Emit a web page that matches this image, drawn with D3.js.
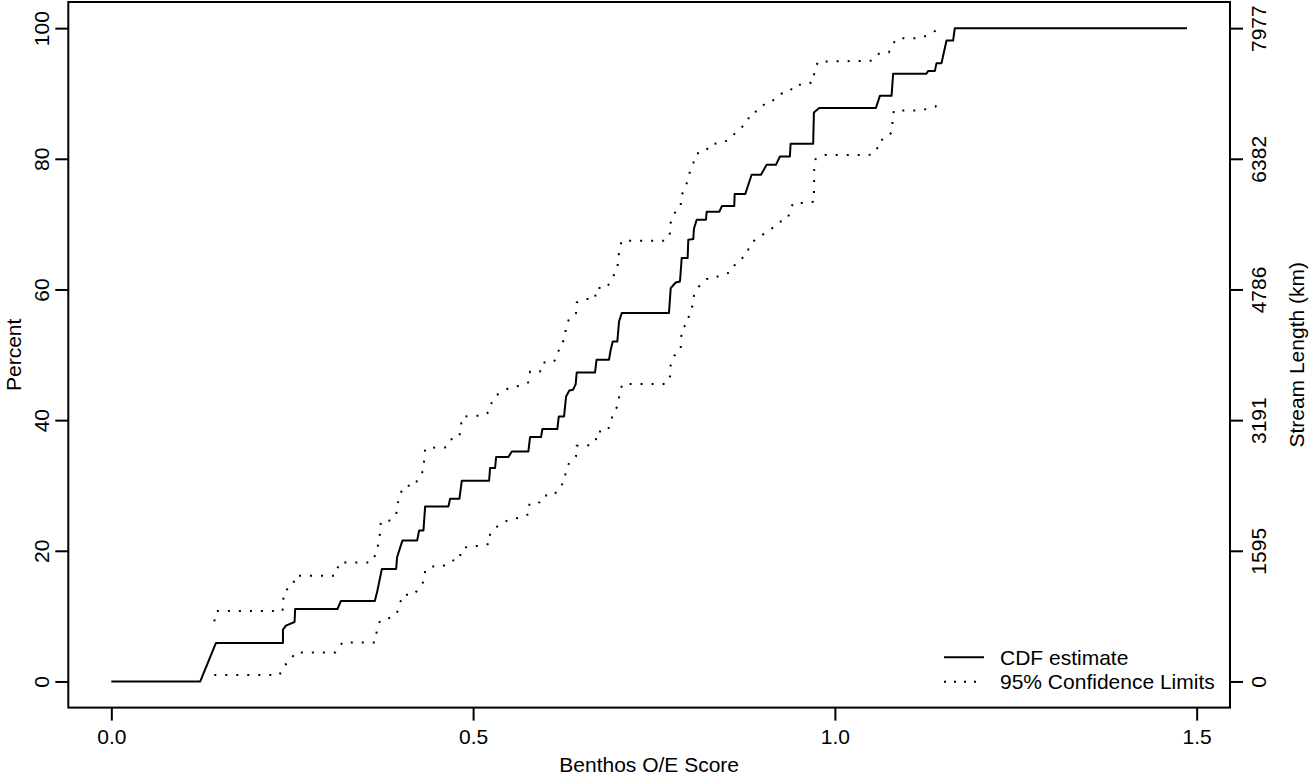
<!DOCTYPE html>
<html>
<head>
<meta charset="utf-8">
<script src="https://cdn.jsdelivr.net/npm/d3@7/dist/d3.min.js"></script>
<style>
  html, body { margin: 0; padding: 0; background: #ffffff; }
  svg { display: block; }
  text { font-family: "Liberation Sans", Arial, Helvetica, sans-serif; fill: #000; }
</style>
</head>
<body>
<svg id="chart" width="1316" height="777"></svg>
<script>
// ---------------- data ----------------
const cdfScore = [0, 0.1229, 0.1446, 0.2372, 0.2372, 0.2413, 0.2532, 0.2541, 0.3126, 0.3173,
  0.3642, 0.3678, 0.3739, 0.3936, 0.3950, 0.4024, 0.4227, 0.4254, 0.4314, 0.4337,
  0.4659, 0.4682, 0.4811, 0.4844, 0.5221, 0.5235, 0.5304, 0.5318, 0.5488, 0.5535,
  0.5764, 0.5787, 0.5939, 0.5957, 0.6164, 0.6184, 0.6257, 0.6285, 0.6330, 0.6381,
  0.6418, 0.6432, 0.6685, 0.6706, 0.6878, 0.6902, 0.6930, 0.6993, 0.7017, 0.7054,
  0.7707, 0.7731, 0.7800, 0.7859, 0.7883, 0.7965, 0.7974, 0.8043, 0.8052, 0.8090,
  0.8218, 0.8228, 0.8402, 0.8439, 0.8609, 0.8615, 0.8761, 0.8849, 0.8978, 0.9057,
  0.9185, 0.9240, 0.9378, 0.9388, 0.9700, 0.9710, 0.9783, 1.0566, 1.0622, 1.0783,
  1.0805, 1.1264, 1.1288, 1.1381, 1.1405, 1.1474, 1.1496, 1.1543, 1.1634, 1.1657, 1.4866];
const cdfPercent = [0, 0, 5.89, 5.89, 7.93, 8.54, 9.10, 11.09, 11.09, 12.32,
  12.32, 13.94, 17.21, 17.21, 19.05, 21.59, 21.59, 23.12, 23.12, 26.79,
  26.79, 27.97, 27.97, 30.73, 30.73, 32.67, 32.67, 34.35, 34.35, 35.21,
  35.21, 37.41, 37.41, 38.64, 38.64, 40.57, 40.57, 43.63, 44.54, 44.65,
  45.52, 47.30, 47.30, 49.24, 49.24, 50.77, 52.04, 52.04, 55.10, 56.39,
  56.39, 60.21, 61.07, 61.22, 64.81, 64.81, 67.60, 67.71, 69.29, 70.67,
  70.67, 71.89, 71.89, 72.76, 72.76, 74.60, 74.60, 77.55, 77.55, 79.08,
  79.08, 80.35, 80.35, 82.30, 82.30, 87.08, 87.76, 87.76, 89.64, 89.64,
  93.01, 93.01, 93.42, 93.42, 94.64, 94.64, 95.76, 98.10, 98.10, 100, 100];

const upperScore = [0.1423, 0.1454, 0.2366, 0.2376, 0.2385, 0.2510, 0.2541, 0.3094, 0.3153, 0.3587,
  0.3660, 0.3692, 0.3715, 0.3725, 0.3863, 0.3936, 0.3954, 0.3992, 0.4051, 0.4199,
  0.4244, 0.4314, 0.4323, 0.4337, 0.4475, 0.4613, 0.4673, 0.4807, 0.4830, 0.4844,
  0.4982, 0.5134, 0.5225, 0.5258, 0.5314, 0.5405, 0.5525, 0.5663, 0.5773, 0.5787,
  0.5925, 0.5960, 0.6109, 0.6174, 0.6192, 0.6271, 0.6280, 0.6330, 0.6423, 0.6432,
  0.6547, 0.6685, 0.6699, 0.6847, 0.6906, 0.6975, 0.7007, 0.7017, 0.7054, 0.7666,
  0.7721, 0.7731, 0.7779, 0.7869, 0.7873, 0.7928, 0.7965, 0.7997, 0.8043, 0.8080,
  0.8214, 0.8273, 0.8412, 0.8540, 0.8609, 0.8678, 0.8780, 0.8833, 0.8954, 0.9047,
  0.9171, 0.9264, 0.9378, 0.9438, 0.9595, 0.9710, 0.9714, 0.9769, 1.0515, 1.0608,
  1.0746, 1.0797, 1.0866, 1.1164, 1.1302, 1.1395];
const upperPercent = [9.20, 10.79, 10.79, 12.36, 13.79, 14.66, 16.19, 16.19, 18.22, 18.22,
  19.56, 21.16, 22.82, 24.50, 24.65, 25.52, 27.05, 28.69, 29.96, 29.96,
  31.34, 32.26, 33.94, 35.62, 35.82, 35.82, 37.00, 37.35, 38.79, 40.47,
  40.67, 40.67, 41.29, 42.71, 43.78, 44.39, 45.06, 45.26, 45.83, 47.45,
  47.45, 48.83, 48.83, 49.90, 51.43, 52.41, 54.09, 55.62, 56.39, 58.01,
  58.53, 58.53, 60.21, 60.21, 61.48, 62.75, 64.19, 65.81, 67.45, 67.45,
  68.63, 70.25, 71.63, 72.61, 74.23, 75.46, 76.68, 78.06, 79.34, 80.77,
  81.12, 82.25, 82.40, 82.91, 83.78, 84.59, 85.36, 86.99, 87.38, 88.68,
  89.03, 89.99, 90.30, 91.32, 91.32, 91.83, 93.51, 94.89, 95.00, 96.07,
  96.27, 97.55, 98.47, 98.47, 98.97, 99.63];

const lowerScore = [0.1423, 0.2325, 0.2376, 0.2477, 0.2541, 0.3094, 0.3195, 0.3642, 0.3670, 0.3715,
  0.3844, 0.3943, 0.3982, 0.4029, 0.4185, 0.4254, 0.4323, 0.4337, 0.4430, 0.4582,
  0.4673, 0.4811, 0.4838, 0.4949, 0.5097, 0.5225, 0.5235, 0.5308, 0.5396, 0.5521,
  0.5659, 0.5773, 0.5778, 0.5916, 0.5971, 0.6123, 0.6178, 0.6261, 0.6280, 0.6330,
  0.6421, 0.6432, 0.6579, 0.6695, 0.6709, 0.6855, 0.6902, 0.6938, 0.7007, 0.7021,
  0.7062, 0.7666, 0.7721, 0.7731, 0.7780, 0.7869, 0.7873, 0.7891, 0.7974, 0.7983,
  0.8035, 0.8052, 0.8112, 0.8228, 0.8311, 0.8425, 0.8559, 0.8609, 0.8674, 0.8780,
  0.8822, 0.8909, 0.9019, 0.9126, 0.9217, 0.9341, 0.9382, 0.9420, 0.9572, 0.9710,
  0.9714, 0.9733, 0.9862, 1.0470, 1.0576, 1.0608, 1.0722, 1.0791, 1.0797, 1.0815,
  1.1119, 1.1267, 1.1391, 1.1450];
const lowerPercent = [0.99, 0.99, 2.31, 3.23, 4.45, 4.45, 5.98, 5.98, 7.77, 9.35,
  9.72, 10.33, 11.75, 13.28, 13.28, 14.40, 15.35, 17.00, 17.61, 17.61,
  18.44, 18.64, 20.28, 20.73, 20.73, 21.06, 22.59, 23.49, 24.25, 24.84,
  25.11, 25.63, 27.21, 27.41, 28.48, 28.48, 29.70, 30.47, 32.15, 33.53,
  34.45, 36.08, 36.08, 36.66, 38.27, 38.27, 39.65, 41.24, 42.25, 43.99,
  45.52, 45.52, 46.69, 48.37, 49.85, 50.77, 52.41, 54.09, 54.86, 56.48,
  57.51, 59.04, 60.37, 61.59, 61.59, 62.25, 62.60, 63.63, 64.54, 65.20,
  66.84, 67.71, 68.52, 69.29, 70.28, 70.71, 71.94, 73.22, 73.22, 73.42,
  78.36, 79.95, 80.57, 80.57, 81.12, 82.75, 83.17, 84.18, 85.86, 87.39,
  87.39, 87.61, 88.00, 89.23];

const xTicks = [0, 0.5, 1.0, 1.5];
const xTickLabels = ["0.0", "0.5", "1.0", "1.5"];
const yTicks = [0, 20, 40, 60, 80, 100];
const yTickLabels = ["0", "20", "40", "60", "80", "100"];
const rightTickLabels = ["0", "1595", "3191", "4786", "6382", "7977"];
const legendLabels = ["CDF estimate", "95% Confidence Limits"];
const xTitle = "Benthos O/E Score";
const yTitle = "Percent";
const rightTitle = "Stream Length (km)";

// ---------------- layout ----------------
const box = { left: 68.3, right: 1230, top: 2, bottom: 707.6 };
const FS = 21;
const svg = d3.select("#chart");

const xMax = d3.max(cdfScore);
const xPad = 0.04 * xMax;
const x = d3.scaleLinear().domain([-xPad, xMax + xPad]).range([box.left, box.right]);
const y = d3.scaleLinear().domain([-4, 104]).range([box.bottom, box.top]);

const zip = (a, b) => a.map((v, i) => [v, b[i]]);
const line = d3.line().x(d => x(d[0])).y(d => y(d[1]));

// confidence limits (dotted)
[zip(upperScore, upperPercent), zip(lowerScore, lowerPercent)].forEach(pts => {
  svg.append("path").attr("d", line(pts))
    .attr("fill", "none").attr("stroke", "#000").attr("stroke-width", 2)
    .attr("stroke-dasharray", "2 9").attr("stroke-linecap", "butt");
});

// CDF estimate (solid)
svg.append("path").attr("d", line(zip(cdfScore, cdfPercent)))
  .attr("fill", "none").attr("stroke", "#000").attr("stroke-width", 2)
  .attr("stroke-linejoin", "round");

// frame
svg.append("rect")
  .attr("x", box.left).attr("y", box.top)
  .attr("width", box.right - box.left).attr("height", box.bottom - box.top)
  .attr("fill", "none").attr("stroke", "#000").attr("stroke-width", 2);

// bottom axis
const gx = svg.append("g").attr("transform", `translate(0,${box.bottom})`)
  .call(d3.axisBottom(x).tickValues(xTicks).tickFormat((d, i) => xTickLabels[i])
    .tickSize(13).tickSizeOuter(0));
gx.select(".domain").remove();
gx.selectAll(".tick line").attr("stroke", "#000").attr("stroke-width", 2);
gx.selectAll(".tick text").attr("y", 36.5).attr("dy", null)
  .style("font-size", FS + "px").style("font-family", "Liberation Sans, Arial, sans-serif");

// left axis
const gy = svg.append("g").attr("transform", `translate(${box.left},0)`)
  .call(d3.axisLeft(y).tickValues(yTicks).tickFormat((d, i) => yTickLabels[i])
    .tickSize(13).tickSizeOuter(0));
gy.select(".domain").remove();
gy.selectAll(".tick line").attr("stroke", "#000").attr("stroke-width", 2);
gy.selectAll(".tick text").attr("x", null).attr("dy", "0.35em")
  .attr("text-anchor", "middle")
  .attr("transform", "translate(-26.8,0) rotate(-90)")
  .style("font-size", FS + "px").style("font-family", "Liberation Sans, Arial, sans-serif");

// right axis
const gr = svg.append("g").attr("transform", `translate(${box.right},0)`)
  .call(d3.axisRight(y).tickValues(yTicks).tickFormat((d, i) => rightTickLabels[i])
    .tickSize(13).tickSizeOuter(0));
gr.select(".domain").remove();
gr.selectAll(".tick line").attr("stroke", "#000").attr("stroke-width", 2);
gr.selectAll(".tick text").attr("x", null).attr("dy", "0.35em")
  .attr("text-anchor", "middle")
  .attr("transform", "translate(28.5,0) rotate(-90)")
  .style("font-size", FS + "px").style("font-family", "Liberation Sans, Arial, sans-serif");

// axis titles
const midX = (box.left + box.right) / 2;
const midY = (box.top + box.bottom) / 2;
svg.append("text").attr("x", midX).attr("y", 771.5).attr("text-anchor", "middle")
  .style("font-size", FS + "px").text(xTitle);
svg.append("text").attr("transform", `translate(14,${midY}) rotate(-90)`)
  .attr("text-anchor", "middle").attr("dy", "0.35em")
  .style("font-size", FS + "px").text(yTitle);
svg.append("text").attr("transform", `translate(1297,${midY}) rotate(-90)`)
  .attr("text-anchor", "middle").attr("dy", "0.35em")
  .style("font-size", FS + "px").text(rightTitle);

// legend
const legend = svg.append("g");
const legY = [657.3, 681.7];
legend.append("line").attr("x1", 944).attr("x2", 984).attr("y1", legY[0]).attr("y2", legY[0])
  .attr("stroke", "#000").attr("stroke-width", 2);
legend.append("line").attr("x1", 944).attr("x2", 977).attr("y1", legY[1]).attr("y2", legY[1])
  .attr("stroke", "#000").attr("stroke-width", 2).attr("stroke-dasharray", "2 8");
legendLabels.forEach((t, i) => {
  legend.append("text").attr("x", 1000).attr("y", legY[i]).attr("dy", "0.35em")
    .style("font-size", FS + "px").text(t);
});
</script>
</body>
</html>
